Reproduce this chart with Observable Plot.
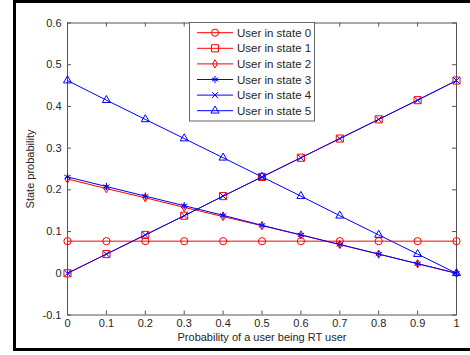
<!DOCTYPE html>
<html><head><meta charset="utf-8">
<script src="https://cdn.jsdelivr.net/npm/d3@7"></script>
<script src="https://cdn.jsdelivr.net/npm/@observablehq/plot@0.6"></script>
<style>
body{margin:0;background:#fff;}
#wrap{position:relative;width:470px;height:355px;overflow:hidden;background:#fff;}
#wrap svg{position:absolute;left:0;top:0;}
#frame{position:absolute;left:13px;top:0;width:500px;height:351px;border:3px solid #000;box-sizing:border-box;pointer-events:none;}
</style>
</head><body>
<div id="wrap"><div id="frame"></div></div>
<script>
const xs = [0, 0.1, 0.2, 0.3, 0.4, 0.5, 0.6, 0.7, 0.8, 0.9, 1];
const state0 = [0.077, 0.077, 0.077, 0.077, 0.077, 0.077, 0.077, 0.077, 0.077, 0.077, 0.077];
const state1 = [0, 0.046, 0.092, 0.138, 0.185, 0.231, 0.277, 0.323, 0.369, 0.415, 0.462];
const state2 = [0.226, 0.203, 0.181, 0.158, 0.136, 0.114, 0.092, 0.069, 0.046, 0.023, 0];
const state3 = [0.231, 0.208, 0.185, 0.162, 0.139, 0.115, 0.092, 0.069, 0.046, 0.023, 0];
const state4 = [0, 0.046, 0.092, 0.138, 0.185, 0.231, 0.277, 0.323, 0.369, 0.415, 0.462];
const state5 = [0.462, 0.415, 0.369, 0.323, 0.277, 0.231, 0.185, 0.138, 0.092, 0.046, 0];
const names = ["User in state 0","User in state 1","User in state 2","User in state 3","User in state 4","User in state 5"];
const xTicks = [0, 0.1, 0.2, 0.3, 0.4, 0.5, 0.6, 0.7, 0.8, 0.9, 1];
const xTickLabels = ["0","0.1","0.2","0.3","0.4","0.5","0.6","0.7","0.8","0.9","1"];
const yTicks = [-0.1, 0, 0.1, 0.2, 0.3, 0.4, 0.5, 0.6];
const yTickLabels = ["-0.1","0","0.1","0.2","0.3","0.4","0.5","0.6"];

const series = [
  {name: names[0], values: state0, color: "#ff0000", symbol: "circle", r: 3.6},
  {name: names[1], values: state1, color: "#ff0000", symbol: "square", r: 4.0},
  {name: names[2], values: state2, color: "#ff0000", symbol: "diamond", r: 2.5},
  {name: names[3], values: state3, color: "#0000ff", symbol: "asterisk", r: 3.4},
  {name: names[4], values: state4, color: "#0000ff", symbol: "times", r: 2.8},
  {name: names[5], values: state5, color: "#0000ff", symbol: "triangle", r: 3.0}
];

const W = 470, H = 355;
const mL = 67, mR = 14, mT = 22.5, mB = 40.5;
const fw = W - mL - mR, fh = H - mT - mB;
const axisColor = "#555";
const textColor = "#262626";

const marks = [];
for (const s of series) {
  marks.push(Plot.line(s.values, {x: (d, i) => xs[i], y: d => d, stroke: s.color, strokeWidth: 1}));
  marks.push(Plot.dot(s.values, {x: (d, i) => xs[i], y: d => d, symbol: s.symbol, r: s.r, stroke: s.color, fill: "none", strokeWidth: 1}));
}

const chart = Plot.plot({
  width: W, height: H,
  marginLeft: mL, marginRight: mR, marginTop: mT, marginBottom: mB,
  style: {fontFamily: "'Liberation Sans', Arial, sans-serif", fontSize: "11px", background: "white", overflow: "visible"},
  x: {domain: [0, 1]},
  y: {domain: [-0.1, 0.6]},
  marks: [
    Plot.frame({stroke: axisColor, strokeWidth: 1}),
    Plot.ruleX(xTicks, {x: d => d, insetTop: fh - 4, stroke: axisColor}),
    Plot.ruleX(xTicks, {x: d => d, insetBottom: fh - 4, stroke: axisColor}),
    Plot.ruleY(yTicks, {y: d => d, insetRight: fw - 4, stroke: axisColor}),
    Plot.ruleY(yTicks, {y: d => d, insetLeft: fw - 4, stroke: axisColor}),
    Plot.axisX(xTicks, {tickSize: 0, tickPadding: 4, tickFormat: d => xTickLabels[xTicks.indexOf(d)], fill: textColor,
      label: "Probability of a user being RT user", labelArrow: "none", labelAnchor: "center", labelOffset: 26}),
    Plot.axisY(yTicks, {tickSize: 0, tickPadding: 6, tickFormat: d => yTickLabels[yTicks.indexOf(d)], fill: textColor,
      label: "State probability", labelArrow: "none", labelAnchor: "center", labelOffset: 41}),
    ...marks
  ]
});
document.getElementById("wrap").prepend(chart);

// legend
const svg = d3.select(chart);
const lg = svg.append("g").attr("text-anchor", "start");
lg.append("rect").attr("x", 189.5).attr("y", 22.5).attr("width", 125).attr("height", 98.5)
  .attr("fill", "white").attr("stroke", "#666").attr("stroke-width", 1);
const symMap = {circle: d3.symbolCircle, square: d3.symbolSquare, diamond: d3.symbolDiamond,
  asterisk: d3.symbolAsterisk, times: d3.symbolTimes, triangle: d3.symbolTriangle};
series.forEach((s, i) => {
  const y = 32.7 + i * 15.6;
  const row = lg.append("g");
  row.append("line").attr("x1", 197).attr("x2", 233).attr("y1", y).attr("y2", y)
    .attr("stroke", s.color).attr("stroke-width", 1);
  row.append("path").attr("transform", `translate(215,${y})`)
    .attr("d", d3.symbol(symMap[s.symbol], Math.PI * s.r * s.r)())
    .attr("fill", "none").attr("stroke", s.color).attr("stroke-width", 1);
  row.append("text").attr("x", 237).attr("y", y).attr("dy", "0.36em").attr("text-anchor", "start")
    .attr("fill", textColor).attr("font-size", "11.5px").text(s.name);
});
</script>
</body></html>
